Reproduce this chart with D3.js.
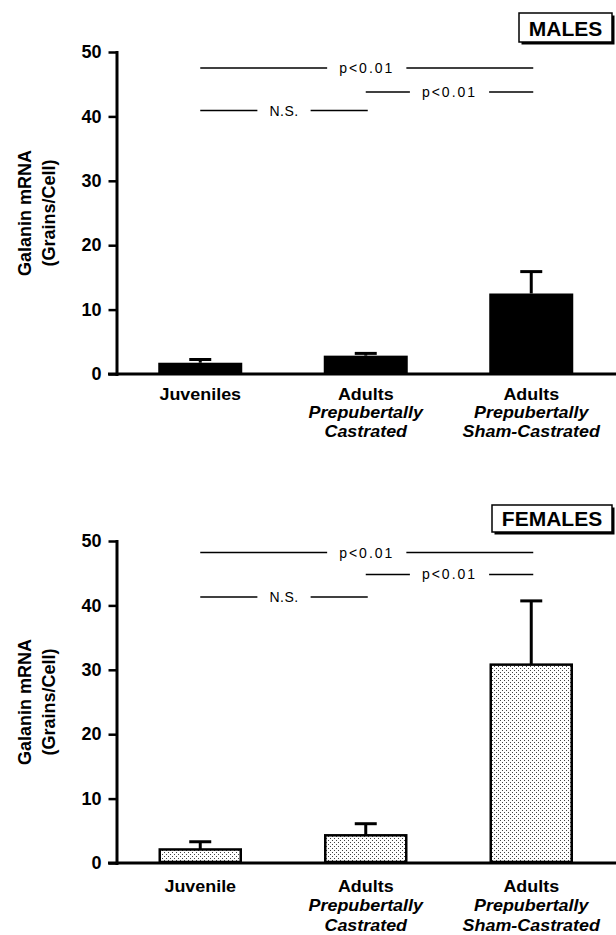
<!DOCTYPE html>
<html><head><meta charset="utf-8">
<script src="https://cdn.jsdelivr.net/npm/d3@7"></script>
<style>
body{margin:0;background:#fff}
svg{display:block}
text{font-family:Arial,"Liberation Sans",Helvetica,sans-serif;fill:#000}
</style>
</head><body>
<svg id="chart" width="616" height="935"></svg>
<script>
// ---- data ----
const groupKeys = ["juv", "cast", "sham"];
const maleCategories = [["Juveniles"], ["Adults", "Prepubertally", "Castrated"], ["Adults", "Prepubertally", "Sham-Castrated"]];
const femaleCategories = [["Juvenile"], ["Adults", "Prepubertally", "Castrated"], ["Adults", "Prepubertally", "Sham-Castrated"]];
const maleMeans = [1.75, 2.85, 12.5];
const maleErrors = [0.5, 0.35, 3.4];
const femaleMeans = [2.1, 4.3, 30.8];
const femaleErrors = [1.2, 1.8, 9.9];
const yTicks = [0, 10, 20, 30, 40, 50];
const maleComparisons = [
  {from: "juv", to: "sham", value: 47.5, label: "p<0.01"},
  {from: "cast", to: "sham", value: 43.8, label: "p<0.01"},
  {from: "juv", to: "cast", value: 40.9, label: "N.S."}
];
const femaleComparisons = [
  {from: "juv", to: "sham", value: 48.2, label: "p<0.01"},
  {from: "cast", to: "sham", value: 44.8, label: "p<0.01"},
  {from: "juv", to: "cast", value: 41.3, label: "N.S."}
];
const panelTitles = ["MALES", "FEMALES"];
const yLabelLines = ["Galanin mRNA", "(Grains/Cell)"];

// ---- drawing ----
const svg = d3.select("#chart");
const defs = svg.append("defs");
const pat = defs.append("pattern").attr("id", "dots")
  .attr("width", 4).attr("height", 4).attr("patternUnits", "userSpaceOnUse");
pat.append("rect").attr("width", 4).attr("height", 4).attr("fill", "#fff");
pat.append("rect").attr("x", 0).attr("y", 0).attr("width", 1).attr("height", 1).attr("fill", "#444");
pat.append("rect").attr("x", 2).attr("y", 2).attr("width", 1).attr("height", 1).attr("fill", "#444");

const x = d3.scalePoint().domain(groupKeys).range([117.5, 614]).padding(0.5);
const axisX = 116.5;

const panels = [
  {title: panelTitles[0], cats: maleCategories, means: maleMeans, errs: maleErrors, comps: maleComparisons,
   yRange: [374, 52], filled: true, box: {x: 519, y: 13, w: 93, h: 29, tx: 565.5, ty: 36},
   labelOffset: 26, labelSpacing: 18.3},
  {title: panelTitles[1], cats: femaleCategories, means: femaleMeans, errs: femaleErrors, comps: femaleComparisons,
   yRange: [863, 541], filled: false, box: {x: 492, y: 505, w: 120, h: 27, tx: 552, ty: 526},
   labelOffset: 29, labelSpacing: 19.3}
];

panels.forEach(p => {
  const y = d3.scaleLinear().domain([0, 50]).range(p.yRange);
  const g = svg.append("g");

  // title box with shadow
  g.append("rect").attr("x", p.box.x + 2.5).attr("y", p.box.y + 2.5)
    .attr("width", p.box.w).attr("height", p.box.h).attr("fill", "#000");
  g.append("rect").attr("x", p.box.x).attr("y", p.box.y)
    .attr("width", p.box.w).attr("height", p.box.h)
    .attr("fill", "#fff").attr("stroke", "#000").attr("stroke-width", 1.5);
  g.append("text").attr("x", p.box.tx).attr("y", p.box.ty)
    .attr("text-anchor", "middle").style("font-size", "21px").style("font-weight", "bold")
    .text(p.title);

  // y axis
  const ax = d3.axisLeft(y).tickValues(yTicks).tickSize(8).tickSizeOuter(0).tickPadding(7);
  const ga = g.append("g").attr("transform", `translate(${axisX},0)`).call(ax);
  ga.select(".domain").attr("stroke-width", 3).attr("stroke-linecap", "square");
  ga.selectAll(".tick line").attr("stroke-width", 2.5);
  ga.selectAll(".tick text").style("font-size", "18px").style("font-weight", "bold")
    .style("font-family", "Arial, 'Liberation Sans', sans-serif").attr("fill", "#000");

  // baseline
  g.append("line").attr("x1", 108).attr("x2", 616)
    .attr("y1", y(0)).attr("y2", y(0)).attr("stroke", "#000").attr("stroke-width", 3);

  // y label
  const cy = (p.yRange[0] + p.yRange[1]) / 2;
  yLabelLines.forEach((t, i) => {
    g.append("text")
      .attr("transform", `translate(${i === 0 ? 31 : 54.5},${cy}) rotate(-90)`)
      .attr("text-anchor", "middle").style("font-size", "18px").style("font-weight", "bold")
      .text(t);
  });

  // bars
  groupKeys.forEach((k, i) => {
    const cx = x(k);
    const v = p.means[i], e = p.errs[i];
    // error bar
    g.append("line").attr("x1", cx).attr("x2", cx).attr("y1", y(v)).attr("y2", y(v + e))
      .attr("stroke", "#000").attr("stroke-width", 3);
    g.append("line").attr("x1", cx - 11).attr("x2", cx + 11).attr("y1", y(v + e)).attr("y2", y(v + e))
      .attr("stroke", "#000").attr("stroke-width", 3);
    if (p.filled) {
      g.append("rect").attr("x", cx - 42).attr("width", 84)
        .attr("y", y(v)).attr("height", y(0) - y(v)).attr("fill", "#000");
    } else {
      g.append("rect").attr("x", cx - 40.5).attr("width", 81)
        .attr("y", y(v)).attr("height", y(0) - y(v) - 1)
        .attr("fill", "url(#dots)").attr("stroke", "#000").attr("stroke-width", 2.5);
    }
    // category labels (slightly widened, as in the original typesetting)
    p.cats[i].forEach((t, j) => {
      g.append("g")
        .attr("transform", `translate(${cx},${y(0) + p.labelOffset + j * p.labelSpacing}) scale(1.12,1)`)
        .append("text").attr("x", 0).attr("y", 0)
        .attr("text-anchor", "middle").style("font-size", "16px").style("font-weight", "bold")
        .style("font-style", j === 0 ? "normal" : "italic")
        .text(t);
    });
  });

  // comparisons
  p.comps.forEach(c => {
    const x1 = x(c.from), x2 = x(c.to) + 2;
    const mx = (x1 + x2) / 2;
    const yy = y(c.value);
    const t = g.append("text").attr("x", mx).attr("y", yy + 5)
      .attr("text-anchor", "middle").style("font-size", "14px")
      .style("letter-spacing", c.label.startsWith("p") ? "2px" : "0.5px")
      .text(c.label);
    const bb = t.node().getBBox();
    const gap = 12;
    g.append("line").attr("x1", x1).attr("x2", bb.x - gap).attr("y1", yy).attr("y2", yy)
      .attr("stroke", "#000").attr("stroke-width", 1.5);
    g.append("line").attr("x1", bb.x + bb.width + gap).attr("x2", x2).attr("y1", yy).attr("y2", yy)
      .attr("stroke", "#000").attr("stroke-width", 1.5);
  });
});
</script>
</body></html>
